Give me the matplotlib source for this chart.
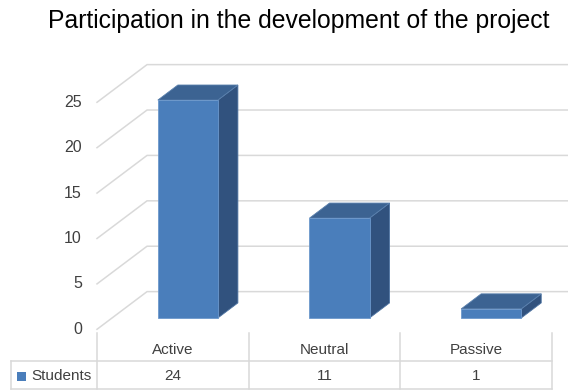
"""
3D-style column chart with a data table underneath.
Participation of students in the development of the project.
"""

import matplotlib
matplotlib.use("Agg")
import matplotlib.pyplot as plt
from matplotlib.patches import Polygon, Rectangle

# -----------------------------------------------------------------------------
# DATA
# -----------------------------------------------------------------------------
categories = ["Active", "Neutral", "Passive"]
students = [24, 11, 1]
series_name = "Students"
y_ticks = [0, 5, 10, 15, 20, 25]
title = "Participation in the development of the project"

# -----------------------------------------------------------------------------
# STYLE
# -----------------------------------------------------------------------------
FONT = "Liberation Sans"
FRONT = "#4a7ebb"
TOP = "#3c6392"
SIDE = "#31527e"
GRID = "#d9d9d9"
TEXT = "#404040"

# oblique depth vector (category units, value units) for the full floor depth
DEPTH_X = 0.33
DEPTH_Y = 4.15
BAR_W = 0.396          # bar width in category units
BAR_D0, BAR_D1 = 0.3, 0.7   # bar front/back position as a fraction of depth

W, H = 568, 390
fig = plt.figure(figsize=(W / 100, H / 100), dpi=100)

# plot area: x = category index, y = value
ax = fig.add_axes([97 / W, (H - 329.3) / H, 455 / W, 30 * 9.08 / H])
ax.set_xlim(-0.5, 2.5)
ax.set_ylim(0, 30)
ax.axis("off")


def depth(x, y, d):
    return (x + d * DEPTH_X, y + d * DEPTH_Y)


# walls: side wall diagonals and back wall gridlines
x_left = -0.5
x_right = len(categories) - 0.5 + DEPTH_X + 0.2
for v in y_ticks:
    fx, fy = depth(x_left, v, 0)
    bx, by = depth(x_left, v, 1)
    ax.plot([fx, bx, x_right], [fy, by, by], color=GRID, lw=1.1,
            clip_on=False, zorder=1, solid_joinstyle="miter")
    ax.text(fx - 0.1, fy, str(v), ha="right", va="center", fontsize=11.5,
            color=TEXT, family=FONT, clip_on=False)

# bars
for i, val in enumerate(students):
    x0 = i - BAR_W / 2
    x1 = i + BAR_W / 2
    a = depth(x0, 0, BAR_D0)
    b = depth(x1, 0, BAR_D0)
    c = depth(x1, val, BAR_D0)
    d = depth(x0, val, BAR_D0)
    dd = BAR_D1 - BAR_D0
    c2 = (c[0] + dd * DEPTH_X, c[1] + dd * DEPTH_Y)
    d2 = (d[0] + dd * DEPTH_X, d[1] + dd * DEPTH_Y)
    b2 = (b[0] + dd * DEPTH_X, b[1] + dd * DEPTH_Y)
    ax.add_patch(Polygon([b, b2, c2, c], closed=True, fc=SIDE, ec="#4f75a3",
                         lw=0.6, zorder=3))
    ax.add_patch(Polygon([d, c, c2, d2], closed=True, fc=TOP, ec="#5a80ad",
                         lw=0.6, zorder=3))
    ax.add_patch(Polygon([a, b, c, d], closed=True, fc=FRONT, ec="#6c98cc",
                         lw=0.6, zorder=4))

# title
fig.text(0.526, (H - 21) / H, title, ha="center", va="center",
         fontsize=17.8, color="black", family=FONT)

# -----------------------------------------------------------------------------
# DATA TABLE
# -----------------------------------------------------------------------------
tab = fig.add_axes([97 / W, 1 / H, 455 / W, 56 / H])
tab.set_xlim(-0.5, 2.5)
tab.set_ylim(0, 2)
tab.axis("off")

left_edge = -0.5 - 86 / 151.67
tab_lines = dict(color=GRID, lw=1.1, clip_on=False)
for k in range(len(categories) + 1):
    tab.plot([k - 0.5, k - 0.5], [0, 2], **tab_lines)
tab.plot([left_edge, 2.5], [1, 1], **tab_lines)
tab.plot([left_edge, 2.5], [0, 0], **tab_lines)
tab.plot([left_edge, left_edge], [0, 1], **tab_lines)

for i, (cat, val) in enumerate(zip(categories, students)):
    tab.text(i, 1.38, cat, ha="center", va="center", fontsize=11,
             color=TEXT, family=FONT)
    tab.text(i, 0.45, str(val), ha="center", va="center", fontsize=11,
             color=TEXT, family=FONT)

# legend key inside the series cell
key_w = 9 / 151.67
tab.add_patch(Rectangle((left_edge + 6 / 151.67, 0.3), key_w, 0.32,
                        fc=FRONT, ec="none", clip_on=False))
tab.text(left_edge + 20 / 151.67, 0.45, series_name, ha="left", va="center",
         fontsize=11, color=TEXT, family=FONT, clip_on=False)

fig.savefig("out.png", dpi=100)
